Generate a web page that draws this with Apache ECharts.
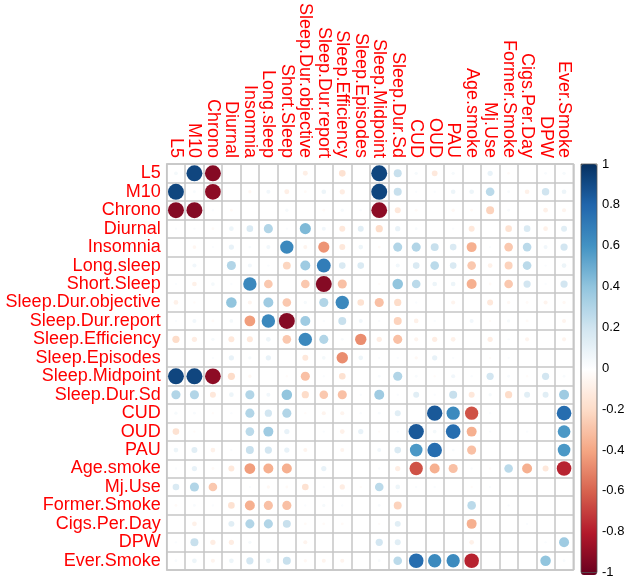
<!DOCTYPE html>
<html>
<head>
<meta charset="utf-8">
<script src="https://cdn.jsdelivr.net/npm/echarts@6/dist/echarts.min.js"></script>
<style>
html, body { margin: 0; padding: 0; background: #fff; }
#chart { width: 630px; height: 579px; }
</style>
</head>
<body>
<div id="chart"></div>
<script>
// variable names (rows and columns)
var names = ['L5', 'M10', 'Chrono', 'Diurnal', 'Insomnia', 'Long.sleep', 'Short.Sleep',
	'Sleep.Dur.objective', 'Sleep.Dur.report', 'Sleep.Efficiency', 'Sleep.Episodes',
	'Sleep.Midpoint', 'Sleep.Dur.Sd', 'CUD', 'OUD', 'PAU', 'Age.smoke', 'Mj.Use',
	'Former.Smoke', 'Cigs.Per.Day', 'DPW', 'Ever.Smoke'];

// correlation values, one row per variable
var corr = [
	[0.05, 0.92, -0.92, 0, 0, 0, 0, -0.09, 0, -0.16, 0, 0.92, 0.23, 0.04, -0.12, 0.04, 0, 0.1, -0.03, 0, 0.03, 0.04],
	[0.92, 0.03, -0.9, 0, -0.04, 0.06, -0.09, -0.03, 0.08, -0.1, 0, 0.92, 0.23, 0.02, 0.02, 0.08, 0.08, 0.27, 0.03, -0.08, 0.2, 0.08],
	[-0.92, -0.92, 0.02, -0.03, 0, 0, 0.04, 0, -0.03, 0.04, 0.02, -0.9, -0.13, -0.03, 0, -0.04, -0.03, -0.23, 0.03, 0, -0.08, -0.06],
	[0.02, 0.02, -0.03, 0.08, 0.16, 0.3, 0.02, 0.45, 0.06, -0.13, 0.13, -0.19, 0.1, 0.03, 0, 0.02, -0.13, 0, -0.16, 0.16, -0.08, 0.13],
	[0, -0.05, 0.02, 0.1, 0.03, 0.06, 0.65, -0.06, -0.45, -0.13, 0.08, -0.03, 0.3, 0.3, 0.23, 0.16, -0.36, 0.02, -0.27, 0.27, 0.06, 0.19],
	[0, 0.06, 0, 0.3, 0.06, 0.02, -0.22, 0.36, 0.7, 0.16, 0.16, 0, 0.06, 0.16, 0.27, 0.16, -0.27, -0.08, -0.23, 0.27, 0.02, 0.08],
	[0.02, -0.08, 0.05, 0.02, 0.65, -0.27, 0, -0.27, -0.92, -0.3, 0, -0.02, 0.4, 0.27, 0.08, 0.08, -0.36, -0.03, -0.27, 0.19, 0.02, 0.19],
	[-0.08, -0.02, 0, 0.4, -0.06, 0.36, -0.27, 0.04, 0.3, 0.65, -0.16, -0.3, -0.19, 0.02, 0, -0.06, 0, -0.13, -0.04, -0.03, -0.06, -0.04],
	[0.02, 0.06, -0.03, 0.05, -0.42, 0.65, -0.92, 0.36, 0.02, 0.23, 0.06, 0.02, -0.23, -0.08, 0.02, 0, 0.06, -0.02, 0.04, -0.03, 0, -0.06],
	[-0.19, -0.1, 0.04, -0.13, -0.13, 0.08, -0.27, 0.65, 0.3, 0.03, -0.47, -0.1, -0.3, -0.06, -0.1, -0.08, 0, -0.1, 0.02, -0.06, 0, -0.06],
	[0, 0, 0.02, 0.1, 0.04, 0.1, 0, -0.13, 0.05, -0.47, 0.08, 0.02, 0.02, -0.04, 0.1, 0.02, 0, -0.02, 0.02, 0, 0, 0],
	[0.92, 0.92, -0.9, -0.19, -0.04, 0, -0.02, -0.3, 0.02, -0.16, 0, 0.03, 0.3, 0.03, -0.02, 0.06, 0.02, 0.19, 0.03, -0.02, 0.19, 0.03],
	[0.3, 0.3, -0.13, 0.08, 0.3, 0.06, 0.4, -0.19, -0.27, -0.3, 0.02, 0.36, 0.02, 0.13, 0.02, 0.23, -0.13, 0.04, -0.19, 0.13, 0.13, 0.36],
	[0.04, 0.03, -0.02, 0.02, 0.3, 0.19, 0.3, -0.02, -0.06, -0.06, 0.02, 0.03, 0.13, 0, 0.85, 0.64, -0.64, 0.02, 0, 0, 0, 0.77],
	[-0.16, -0.02, 0, 0, 0.27, 0.36, 0.1, 0, 0.02, -0.08, 0.1, -0.02, 0.02, 0.85, 0.05, 0.77, -0.36, 0.02, 0, 0.02, 0, 0.58],
	[0.08, 0.13, -0.08, 0.02, 0.23, 0.19, 0.1, -0.06, 0, -0.06, 0, 0.06, 0.16, 0.58, 0.77, 0.03, -0.3, 0, 0, 0, 0, 0.58],
	[0.02, 0.1, -0.03, -0.13, -0.42, -0.36, -0.36, 0, 0.1, 0, 0, 0.02, -0.1, -0.64, -0.36, -0.3, 0.02, -0.02, 0.27, -0.36, -0.13, -0.77],
	[0.16, 0.3, -0.27, 0, 0.02, -0.04, -0.03, -0.16, 0.02, -0.1, -0.02, 0.27, 0.08, 0.02, 0.02, 0, -0.02, 0.02, 0, 0, 0, 0],
	[-0.03, 0.03, 0.02, -0.16, -0.36, -0.3, -0.3, 0.02, 0.04, 0.02, 0, 0.03, -0.23, 0, 0, 0, 0.27, 0, 0.02, 0, 0, 0],
	[0, -0.08, 0, 0.13, 0.3, 0.3, 0.23, -0.03, -0.03, -0.03, 0, -0.02, 0.13, 0, 0, 0, -0.36, 0, 0, 0.02, 0, 0],
	[0.02, 0.23, -0.1, -0.1, 0.04, 0, 0, -0.06, 0, 0, 0, 0.19, 0.13, 0, 0, 0, -0.08, 0, 0, 0, 0.02, 0.36],
	[0.03, 0.08, -0.06, 0.08, 0.19, 0.08, 0.23, -0.04, -0.06, -0.06, 0, 0.03, 0.27, 0.77, 0.64, 0.64, -0.77, 0, 0, 0, 0.4, 0.03]
];

// colour bar tick values
var barTicks = [-1, -0.8, -0.6, -0.4, -0.2, 0, 0.2, 0.4, 0.6, 0.8, 1];

// RdBu palette as used by corrplot
var palette = ['#67001F', '#B2182B', '#D6604D', '#F4A582', '#FDDBC7', '#FFFFFF',
	'#D1E5F0', '#92C5DE', '#4393C3', '#2166AC', '#053061'];

window.onload = () => {
	var chart = echarts.init(document.getElementById('chart'), null, { renderer: 'canvas' });

	var gLeft = 166.7, gTop = 164, gW = 406.6, gH = 406;
	var cell = gW / names.length;

	var points = [];
	for (var i = 0; i < corr.length; i++) {
		for (var j = 0; j < corr[i].length; j++) {
			if (corr[i][j] != 0) points.push([j, i, corr[i][j]]);
		}
	}

	var labelStyle = {
		color: '#FF0000',
		fontSize: 18,
		fontFamily: 'Liberation Sans',
		interval: 0,
		margin: 6
	};
	var gridLine = { show: true, interval: 0, lineStyle: { color: '#c6c6c6', width: 1.5 } };

	var option = {
		animation: false,
		backgroundColor: '#fff',
		grid: [
			{ left: gLeft, top: gTop, width: gW, height: gH, show: true, borderColor: '#c6c6c6', borderWidth: 1.5 },
			{ left: 581, top: 164, width: 16, height: 411, show: true, borderColor: '#555', borderWidth: 0.8, z: 10 }
		],
		xAxis: [
			{
				gridIndex: 0, type: 'category', data: names, position: 'top', boundaryGap: true,
				axisLine: { show: false }, axisTick: { show: false },
				axisLabel: Object.assign({ rotate: 90 }, labelStyle),
				splitLine: gridLine
			},
			{ gridIndex: 1, type: 'value', show: false, min: 0, max: 1 }
		],
		yAxis: [
			{
				gridIndex: 0, type: 'category', data: names, inverse: true, boundaryGap: true,
				axisLine: { show: false }, axisTick: { show: false },
				axisLabel: labelStyle,
				splitLine: gridLine
			},
			{
				gridIndex: 1, type: 'value', position: 'right',
				min: barTicks[0], max: barTicks[barTicks.length - 1], interval: 0.2,
				axisLine: { show: false },
				axisTick: { show: true, length: 3, lineStyle: { color: '#333' } },
				splitLine: { show: false },
				axisLabel: {
					color: '#000', fontSize: 13, fontFamily: 'Liberation Sans', margin: 5,
					formatter: function (v) { return String(+v.toFixed(1)); }
				}
			}
		],
		visualMap: {
			type: 'continuous', min: -1, max: 1, seriesIndex: 0,
			calculable: false, left: 581, top: 164, itemWidth: 16, itemHeight: 411,
			padding: 0, text: null, showLabel: false,
			inRange: { color: palette }
		},
		series: [{
			type: 'scatter',
			xAxisIndex: 0, yAxisIndex: 0,
			data: points,
			symbol: 'circle',
			symbolSize: function (d) { return 0.9 * cell * Math.sqrt(Math.abs(d[2])); },
			itemStyle: { opacity: 1 }
		}]
	};

	chart.setOption(option);
};
</script>
</body>
</html>
